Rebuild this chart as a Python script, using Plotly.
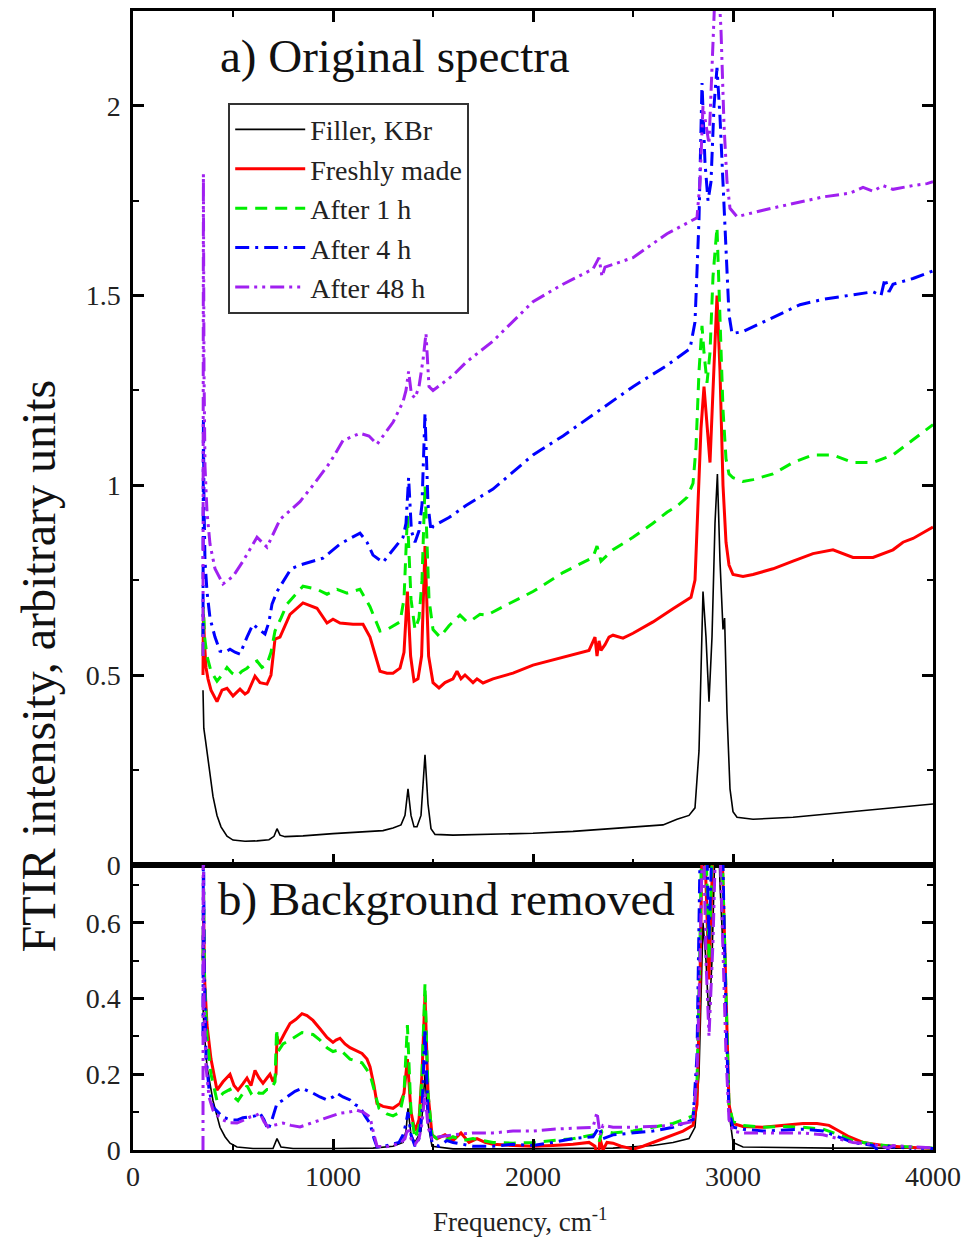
import plotly.graph_objects as go

# ---------------- data ----------------
series_names = ["Filler, KBr", "Freshly made", "After 1 h", "After 4 h", "After 48 h"]

# a) Original spectra : (frequency cm-1, intensity)
kbr_orig = [(350,0.46),(354,0.36),(362,0.33),(372,0.29),(385,0.24),(400,0.18),(420,0.13),(440,0.1),(470,0.075),(500,0.065),
            (560,0.062),(620,0.063),(680,0.066),(705,0.075),(720,0.095),(735,0.078),(760,0.074),(850,0.076),(1000,0.082),(1150,0.086),
            (1250,0.09),(1300,0.097),(1340,0.105),(1360,0.13),(1375,0.2),(1390,0.13),(1405,0.1),(1420,0.1),(1440,0.13),(1460,0.29),
            (1475,0.16),(1490,0.095),(1510,0.08),(1600,0.078),(1800,0.08),(2000,0.083),(2200,0.088),(2400,0.095),(2550,0.1),(2650,0.105),
            (2720,0.12),(2780,0.13),(2810,0.15),(2830,0.3),(2850,0.72),(2865,0.6),(2880,0.43),(2895,0.6),(2910,0.9),(2922,1.03),
            (2935,0.8),(2950,0.62),(2958,0.65),(2970,0.4),(2985,0.2),(3000,0.14),(3020,0.125),(3100,0.12),(3300,0.125),(3500,0.135),
            (3700,0.145),(3900,0.155),(4000,0.16)]

fresh_orig = [(350,0.5),(352,0.66),(358,0.58),(365,0.52),(375,0.49),(390,0.46),(420,0.43),(445,0.46),(470,0.465),(500,0.445),
              (535,0.463),(560,0.45),(575,0.455),(610,0.497),(635,0.48),(670,0.476),(690,0.5),(710,0.595),(735,0.6),(785,0.66),
              (850,0.69),(920,0.676),(970,0.637),(1000,0.647),(1035,0.637),(1100,0.634),(1150,0.634),(1185,0.6),(1235,0.51),(1270,0.505),
              (1300,0.505),(1335,0.518),(1355,0.56),(1372,0.72),(1388,0.55),(1405,0.484),(1425,0.49),(1443,0.55),(1460,0.84),(1478,0.55),
              (1500,0.48),(1530,0.466),(1560,0.48),(1600,0.49),(1620,0.51),(1640,0.49),(1660,0.5),(1700,0.48),(1720,0.49),(1750,0.479),
              (1800,0.49),(1900,0.505),(2000,0.526),(2100,0.54),(2200,0.555),(2280,0.565),(2310,0.6),(2320,0.55),(2330,0.59),(2340,0.565),
              (2360,0.58),(2380,0.6),(2400,0.605),(2450,0.597),(2500,0.61),(2600,0.64),(2700,0.675),(2760,0.695),(2790,0.705),(2810,0.75),
              (2825,0.95),(2840,1.15),(2855,1.26),(2870,1.15),(2885,1.06),(2900,1.25),(2920,1.5),(2935,1.3),(2950,1.0),(2965,0.85),
              (2980,0.79),(3000,0.765),(3050,0.76),(3100,0.765),(3200,0.78),(3300,0.8),(3400,0.82),(3500,0.83),(3600,0.81),(3700,0.81),
              (3750,0.82),(3800,0.83),(3850,0.85),(3900,0.86),(3950,0.875),(4000,0.89)]

h1_orig = [(350,0.55),(352,0.68),(358,0.6),(370,0.55),(390,0.51),(420,0.484),(445,0.5),(470,0.52),(495,0.505),(520,0.497),
           (545,0.51),(570,0.518),(595,0.53),(620,0.537),(645,0.52),(670,0.529),(690,0.56),(710,0.616),(740,0.65),(770,0.687),
           (850,0.734),(920,0.726),(970,0.713),(1020,0.726),(1070,0.716),(1135,0.726),(1185,0.68),(1235,0.616),(1270,0.62),(1300,0.63),
           (1335,0.64),(1355,0.7),(1372,0.92),(1390,0.7),(1410,0.62),(1430,0.65),(1445,0.75),(1460,1.0),(1480,0.7),(1500,0.62),
           (1535,0.6),(1580,0.63),(1635,0.658),(1670,0.64),(1700,0.647),(1735,0.66),(1770,0.658),(1850,0.68),(2000,0.72),(2150,0.77),
           (2300,0.81),(2320,0.84),(2340,0.8),(2400,0.83),(2500,0.863),(2600,0.9),(2670,0.929),(2720,0.945),(2770,0.968),(2800,1.005),
           (2815,1.1),(2830,1.3),(2845,1.42),(2855,1.35),(2870,1.27),(2885,1.35),(2900,1.55),(2920,1.68),(2935,1.45),(2950,1.2),
           (2965,1.07),(2980,1.03),(3000,1.02),(3050,1.01),(3100,1.015),(3200,1.03),(3300,1.06),(3400,1.08),(3500,1.08),(3600,1.06),
           (3700,1.06),(3800,1.08),(3900,1.12),(4000,1.16)]

h4_orig = [(350,0.6),(352,1.18),(355,0.95),(360,0.8),(370,0.72),(385,0.65),(410,0.6),(435,0.563),(460,0.56),(485,0.568),
           (510,0.56),(535,0.555),(570,0.6),(600,0.634),(630,0.62),(660,0.608),(680,0.64),(695,0.687),(720,0.72),(750,0.747),
           (790,0.78),(835,0.79),(900,0.8),(950,0.808),(1000,0.83),(1035,0.845),(1085,0.86),(1135,0.874),(1170,0.85),(1200,0.816),
           (1250,0.797),(1300,0.83),(1350,0.863),(1365,0.9),(1378,1.02),(1392,0.88),(1410,0.85),(1430,0.88),(1445,0.95),(1460,1.19),
           (1475,0.95),(1490,0.88),(1500,0.892),(1580,0.915),(1665,0.947),(1800,0.99),(2000,1.08),(2150,1.13),(2335,1.2),(2500,1.26),
           (2670,1.316),(2785,1.36),(2810,1.43),(2830,1.7),(2845,2.06),(2860,1.85),(2875,1.75),(2890,1.8),(2905,2.0),(2920,2.1),
           (2935,1.97),(2950,1.8),(2965,1.6),(2980,1.45),(2995,1.4),(3050,1.405),(3150,1.43),(3250,1.455),(3335,1.476),(3450,1.49),
           (3585,1.5),(3700,1.51),(3740,1.5),(3760,1.545),(3780,1.51),(3800,1.53),(3900,1.545),(3970,1.56),(4000,1.565)]

h48_orig = [(350,0.55),(352,1.82),(355,1.3),(360,1.05),(370,0.93),(385,0.845),(410,0.78),(450,0.74),(500,0.76),(550,0.8),
            (620,0.863),(670,0.837),(735,0.91),(835,0.957),(900,1.0),(985,1.06),(1050,1.118),(1135,1.137),(1180,1.13),(1220,1.108),
            (1300,1.166),(1350,1.22),(1365,1.25),(1378,1.3),(1392,1.24),(1410,1.23),(1430,1.26),(1450,1.33),(1465,1.4),(1480,1.26),
            (1500,1.25),(1600,1.29),(1665,1.324),(1800,1.38),(2000,1.484),(2150,1.53),(2300,1.57),(2330,1.6),(2345,1.55),(2360,1.575),
            (2500,1.6),(2670,1.663),(2820,1.705),(2835,1.8),(2850,2.0),(2865,1.95),(2880,1.9),(2895,2.1),(2910,2.3),(2925,2.35),
            (2940,2.2),(2955,1.95),(2970,1.8),(2985,1.73),(3020,1.708),(3150,1.725),(3335,1.747),(3450,1.76),(3585,1.77),(3650,1.785),
            (3700,1.775),(3750,1.79),(3800,1.78),(3900,1.79),(3970,1.795),(4000,1.8)]

# b) Background removed
kbr_bg = [(350,0.38),(355,0.32),(370,0.22),(385,0.17),(400,0.13),(420,0.09),(435,0.06),(460,0.035),(485,0.018),(520,0.008),
          (600,0.004),(700,0.004),(720,0.03),(740,0.008),(800,0.004),(1000,0.004),(1200,0.005),(1300,0.01),(1350,0.02),(1365,0.05),
          (1375,0.11),(1390,0.04),(1410,0.02),(1440,0.05),(1460,0.2),(1475,0.07),(1495,0.01),(1600,0.003),(2000,0.003),(2400,0.005),
          (2500,0.008),(2600,0.012),(2700,0.02),(2780,0.03),(2810,0.06),(2830,0.2),(2850,0.6),(2865,0.5),(2880,0.34),(2895,0.5),
          (2910,0.8),(2922,0.94),(2935,0.7),(2950,0.53),(2958,0.56),(2970,0.3),(2985,0.08),(3000,0.02),(3050,0.008),(3500,0.005),
          (4000,0.005)]

fresh_bg = [(350,0.5),(353,0.62),(358,0.45),(370,0.33),(390,0.24),(420,0.158),(450,0.18),(485,0.2),(505,0.17),(525,0.158),
            (550,0.175),(570,0.19),(590,0.17),(610,0.21),(630,0.19),(650,0.176),(670,0.19),(685,0.2),(700,0.18),(715,0.2),
            (720,0.3),(730,0.28),(760,0.31),(785,0.334),(815,0.345),(845,0.36),(870,0.355),(900,0.342),(935,0.32),(970,0.297),
            (1000,0.284),(1015,0.29),(1035,0.295),(1060,0.28),(1085,0.27),(1115,0.262),(1145,0.255),(1170,0.24),(1185,0.22),(1205,0.17),
            (1220,0.123),(1250,0.115),(1300,0.11),(1335,0.123),(1355,0.15),(1372,0.24),(1390,0.1),(1410,0.05),(1430,0.08),(1445,0.2),
            (1460,0.41),(1475,0.15),(1495,0.04),(1520,0.03),(1560,0.04),(1600,0.025),(1640,0.045),(1680,0.02),(1720,0.03),(1760,0.02),
            (1800,0.015),(1900,0.012),(2000,0.01),(2100,0.012),(2200,0.015),(2280,0.02),(2310,0.01),(2325,-0.03),(2335,0.03),(2350,0.0),
            (2370,0.02),(2400,0.018),(2440,0.01),(2480,0.005),(2500,0.002),(2550,0.01),(2600,0.02),(2650,0.03),(2700,0.04),(2750,0.05),
            (2800,0.065),(2820,0.12),(2835,0.45),(2850,0.95),(2865,0.7),(2880,0.45),(2900,0.8),(2920,1.2),(2935,1.0),(2950,0.7),
            (2965,0.35),(2980,0.12),(3000,0.07),(3050,0.062),(3150,0.06),(3250,0.065),(3350,0.07),(3420,0.07),(3480,0.065),(3530,0.05),
            (3580,0.035),(3650,0.02),(3750,0.012),(3850,0.008),(3950,0.005),(4000,0.004)]

h1_bg = [(350,0.5),(353,0.7),(358,0.45),(370,0.3),(390,0.2),(420,0.13),(450,0.15),(485,0.16),(505,0.14),(525,0.13),
         (550,0.15),(570,0.17),(590,0.15),(610,0.16),(630,0.15),(650,0.15),(670,0.16),(690,0.16),(710,0.18),(718,0.32),
         (725,0.26),(750,0.28),(785,0.29),(845,0.31),(900,0.305),(935,0.29),(970,0.27),(1000,0.26),(1035,0.265),(1085,0.24),
         (1145,0.23),(1185,0.2),(1210,0.15),(1230,0.11),(1270,0.095),(1300,0.09),(1335,0.1),(1355,0.15),(1372,0.33),(1390,0.1),
         (1410,0.03),(1430,0.06),(1445,0.2),(1460,0.44),(1475,0.15),(1495,0.04),(1520,0.03),(1560,0.025),(1600,0.035),(1650,0.025),
         (1700,0.03),(1800,0.02),(1900,0.018),(2000,0.02),(2100,0.025),(2200,0.03),(2300,0.04),(2330,0.02),(2345,0.05),(2400,0.045),
         (2500,0.05),(2600,0.06),(2700,0.07),(2800,0.09),(2820,0.18),(2835,0.55),(2850,1.05),(2865,0.8),(2880,0.5),(2900,0.85),
         (2920,1.2),(2935,1.0),(2950,0.7),(2965,0.35),(2980,0.12),(3000,0.075),(3050,0.065),(3150,0.06),(3250,0.062),(3350,0.06),
         (3450,0.055),(3530,0.04),(3600,0.025),(3700,0.015),(3800,0.01),(3900,0.008),(4000,0.005)]

h4_bg = [(350,0.3),(352,0.9),(356,0.5),(365,0.25),(380,0.16),(400,0.113),(425,0.1),(450,0.087),(485,0.08),(520,0.079),
         (550,0.085),(585,0.087),(610,0.09),(635,0.097),(655,0.08),(675,0.053),(695,0.08),(720,0.123),(745,0.13),(770,0.14),
         (810,0.155),(845,0.163),(870,0.158),(900,0.15),(935,0.14),(970,0.132),(1000,0.14),(1020,0.15),(1050,0.14),(1085,0.132),
         (1110,0.12),(1135,0.113),(1160,0.09),(1185,0.07),(1205,0.03),(1220,0.008),(1260,0.01),(1300,0.015),(1330,0.02),(1350,0.04),
         (1365,0.07),(1375,0.1),(1390,0.04),(1410,0.01),(1430,0.03),(1445,0.1),(1460,0.32),(1475,0.1),(1495,0.02),(1530,0.01),
         (1570,0.025),(1600,0.02),(1650,0.015),(1700,0.01),(1800,0.01),(1900,0.015),(2000,0.012),(2100,0.02),(2200,0.03),(2300,0.035),
         (2330,0.06),(2350,0.03),(2400,0.04),(2500,0.045),(2600,0.05),(2700,0.06),(2800,0.08),(2820,0.25),(2835,0.8),(2850,1.3),
         (2865,0.9),(2880,0.55),(2900,0.9),(2920,1.2),(2935,1.0),(2950,0.75),(2965,0.35),(2980,0.1),(3000,0.06),(3050,0.055),
         (3150,0.05),(3250,0.052),(3350,0.055),(3450,0.05),(3530,0.035),(3600,0.02),(3700,0.012),(3760,-0.02),(3780,0.01),(3800,0.008),
         (3880,0.005),(3900,-0.015),(3920,0.005),(4000,0.004)]

h48_bg = [(350,0.0),(351,0.9),(355,0.4),(365,0.22),(380,0.14),(400,0.105),(425,0.09),(450,0.079),(485,0.072),(520,0.071),
          (550,0.078),(585,0.087),(610,0.09),(635,0.097),(655,0.075),(675,0.061),(700,0.065),(750,0.071),(790,0.065),(835,0.061),
          (885,0.07),(935,0.079),(985,0.088),(1035,0.097),(1080,0.1),(1120,0.105),(1150,0.1),(1185,0.087),(1205,0.04),(1220,0.01),
          (1260,0.008),(1300,0.012),(1340,0.02),(1360,0.03),(1375,0.06),(1390,0.03),(1410,0.015),(1430,0.03),(1445,0.07),(1460,0.15),
          (1475,0.06),(1495,0.03),(1530,0.035),(1600,0.04),(1700,0.045),(1800,0.045),(1900,0.05),(2000,0.05),(2100,0.055),(2200,0.058),
          (2300,0.06),(2320,0.1),(2335,0.04),(2350,0.065),(2400,0.06),(2500,0.06),(2600,0.062),(2700,0.065),(2800,0.075),(2820,0.2),
          (2835,0.5),(2850,0.9),(2865,0.5),(2880,0.3),(2900,0.55),(2920,0.95),(2935,0.8),(2950,0.5),(2965,0.25),(2980,0.08),
          (3000,0.05),(3050,0.045),(3150,0.045),(3250,0.045),(3350,0.045),(3450,0.04),(3530,0.03),(3600,0.02),(3700,0.015),(3780,0.005),
          (3800,0.012),(3900,0.008),(4000,0.006)]

x_ticks = [0, 1000, 2000, 3000, 4000]
y_ticks_a = [0, 0.5, 1, 1.5, 2]
y_ticks_b = [0, 0.2, 0.4, 0.6]

# ---------------- styles ----------------
FONT = "Liberation Serif, Times New Roman, serif"
styles = [
    dict(color="#000000", width=1.6, dash="solid"),
    dict(color="#ff0000", width=3, dash="solid"),
    dict(color="#00ee00", width=3, dash="12px,8px"),
    dict(color="#0000ff", width=3, dash="14px,6px,3px,6px"),
    dict(color="#a020f0", width=3, dash="14px,5px,3px,5px,3px,5px"),
]

orig = [kbr_orig, fresh_orig, h1_orig, h4_orig, h48_orig]
bg = [kbr_bg, fresh_bg, h1_bg, h4_bg, h48_bg]

fig = go.Figure()
for name, st, data in zip(series_names, styles, orig):
    xs, ys = zip(*data)
    fig.add_trace(go.Scatter(x=list(xs), y=list(ys), mode="lines", name=name, line=st,
                             xaxis="x", yaxis="y", legendgroup=name))
for name, st, data in zip(series_names, styles, bg):
    xs, ys = zip(*data)
    fig.add_trace(go.Scatter(x=list(xs), y=list(ys), mode="lines", name=name, line=st,
                             xaxis="x2", yaxis="y2", legendgroup=name, showlegend=False))

split = 286 / 1142.0
axis_common = dict(showline=True, linecolor="black", linewidth=2.5, ticks="inside",
                   tickwidth=2.5, tickcolor="black", ticklen=11, showgrid=False, zeroline=False,
                   tickfont=dict(family=FONT, size=28, color="#222222"))

fig.update_layout(
    width=975, height=1237,
    margin=dict(l=133, r=42, t=8, b=87),
    paper_bgcolor="white", plot_bgcolor="white",
    font=dict(family=FONT, color="black"),
    xaxis=dict(**axis_common, domain=[0, 1], anchor="y", range=[0, 4000], tickvals=x_ticks,
               showticklabels=False, mirror="ticks",
               minor=dict(ticks="inside", ticklen=6, tickwidth=2, tickcolor="black", dtick=500)),
    yaxis=dict(**axis_common, domain=[split, 1], anchor="x", range=[0, 2.25], tickvals=y_ticks_a,
               mirror="ticks", ticklabelstandoff=4,
               minor=dict(ticks="inside", ticklen=6, tickwidth=2, tickcolor="black", dtick=0.25)),
    xaxis2=dict(**axis_common, domain=[0, 1], anchor="y2", range=[0, 4000], tickvals=x_ticks,
                mirror=True,
                minor=dict(ticks="inside", ticklen=6, tickwidth=2, tickcolor="black", dtick=500)),
    yaxis2=dict(**axis_common, domain=[0, split], anchor="x2", range=[0, 0.753], tickvals=y_ticks_b,
                mirror="ticks", ticklabelstandoff=4,
                minor=dict(ticks="inside", ticklen=6, tickwidth=2, tickcolor="black", dtick=0.1)),
    legend=dict(x=0.119, y=0.9195, xanchor="left", yanchor="top", bgcolor="white",
                bordercolor="#333333", borderwidth=2, font=dict(family=FONT, size=28, color="#222222"),
                itemwidth=70, tracegroupgap=0),
    showlegend=True,
    annotations=[
        dict(text="a) Original spectra", x=0.106, y=0.9605, xref="paper", yref="paper",
             xanchor="left", yanchor="middle", showarrow=False, font=dict(family=FONT, size=47, color="#111111")),
        dict(text="b) Background removed", x=0.104, y=0.2207, xref="paper", yref="paper",
             xanchor="left", yanchor="middle", showarrow=False, font=dict(family=FONT, size=47, color="#111111")),
        dict(text="FTIR intensity, arbitrary units", x=-0.118, y=0.425, xref="paper", yref="paper",
             xanchor="center", yanchor="middle", textangle=-90, showarrow=False,
             font=dict(family=FONT, size=48, color="#111111")),
        dict(text="Frequency, cm<sup>-1</sup>", x=0.484, y=-0.0613, xref="paper", yref="paper",
             xanchor="center", yanchor="middle", showarrow=False, font=dict(family=FONT, size=27, color="#222222")),
    ],
)

fig.write_html("out.html")
